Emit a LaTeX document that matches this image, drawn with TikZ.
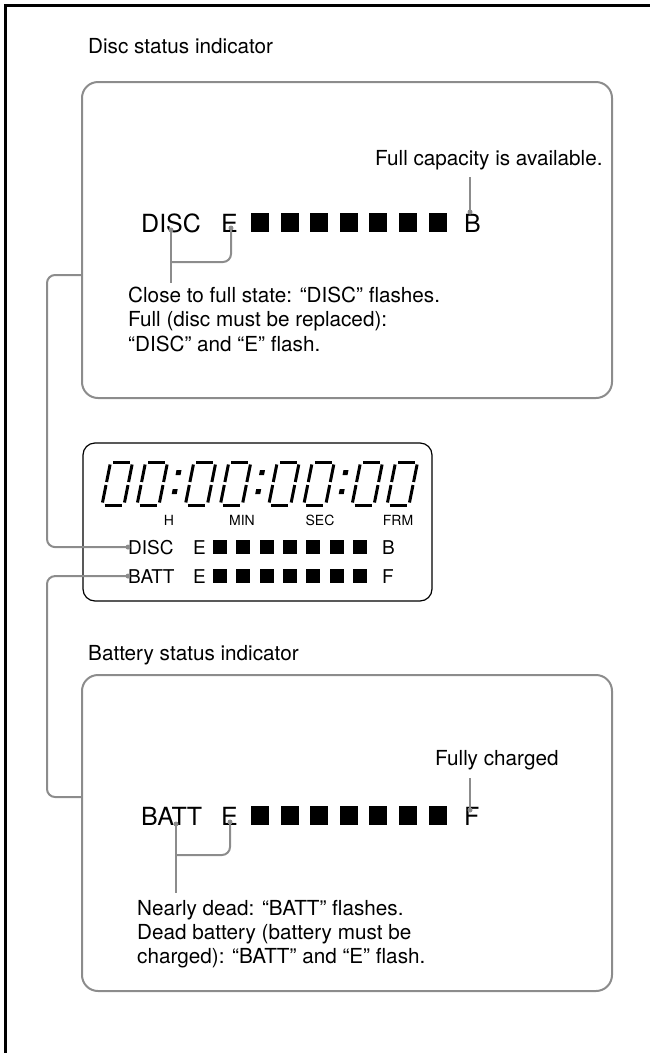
\documentclass[tikz,border=0pt]{standalone}
\usepackage{fontspec}
\setmainfont{TeX Gyre Heros}
\definecolor{linegray}{gray}{0.55}
\newcommand{\capfont}{\fontsize{20.7}{24.3}\selectfont}
\newcommand{\bigfont}{\fontsize{25}{29}\selectfont}
\newcommand{\lcdfont}{\fontsize{19}{22}\selectfont}
\newcommand{\unitfont}{\fontsize{14}{16}\selectfont}
\tikzset{
  panel/.style={draw=linegray, line width=2pt, rounded corners=16pt},
  callout/.style={draw=linegray, line width=2pt, rounded corners=8pt},
  seg/.style={line width=3pt},
  txt/.style={inner sep=0pt, font=\capfont},
}

\begin{document}
\begin{tikzpicture}[x=1pt, y=-1pt]
    \useasboundingbox (0,0) rectangle (650,1053);
    \draw[line width=3pt] (5,1053) -- (5,5) -- (650,5);

    % disc panel
    \node[txt, anchor=base west] (disctitle) at (88,53) {Disc status indicator};
    \draw[panel] (82,82) rectangle (612,398);
    \node[txt, anchor=base west] (discfull) at (375,165) {Full capacity is available.};
    \node[inner sep=0pt, font=\bigfont, anchor=base west] (bigdisc) at (141,232) {DISC};
    \node[inner sep=0pt, font=\bigfont, anchor=base west] (bigdisce) at (221,232) {E};
    \foreach \i in {0,...,6}{\fill (251+29.6*\i,213) rectangle ++(18,19);}
    \node[inner sep=0pt, font=\bigfont, anchor=base west] (bigdiscb) at (464,232) {B};
    \node[txt, anchor=north west, align=left] (disclow) at (128,287)
      {Close to full state: “DISC” flashes.\\Full (disc must be replaced):\\“DISC” and “E” flash.};
    \coordinate (discBdot) at (470,212);
    \coordinate (discBtop) at (470,177);
    \coordinate (discSdot) at (171,230);
    \coordinate (discEdot) at (231,228);
    \coordinate (discknee) at (171,262);
    \coordinate (disclowtop) at (171,283);
    \draw[callout] (discBtop) -- (discBdot);
    \draw[callout] (discSdot) -- (disclowtop);
    \draw[callout] (discEdot) |- (discknee);
    \foreach \p in {discBdot,discSdot,discEdot}{\fill[linegray] (\p) circle (2.5pt);}

    % lcd
    \draw[line width=1.2pt, rounded corners=12pt] (83,443) rectangle (432,601);
    \foreach \d in {102,137,185.3,220.3,268.7,303.7,352,387}{
      \begin{scope}[shift={(\d,505)}, xslant=0.2]
        \draw[seg] (2.5,-43) -- (19.5,-43);
        \draw[seg] (2.5,0) -- (19.5,0);
        \draw[seg] (0,-40.5) -- (0,-23);
        \draw[seg] (0,-20) -- (0,-2.5);
        \draw[seg] (22,-40.5) -- (22,-23);
        \draw[seg] (22,-20) -- (22,-2.5);
      \end{scope}
    }
    \begin{scope}[shift={(0,505)}, xslant=0.2]
      \foreach \c in {172,255.5,339}{
        \fill (\c-2.5,-35) rectangle ++(5,5);
        \fill (\c-2.5,-16) rectangle ++(5,5);
      }
    \end{scope}
    \node[inner sep=0pt, font=\unitfont, anchor=base] (unith) at (169,525) {H};
    \node[inner sep=0pt, font=\unitfont, anchor=base] (unitmin) at (242,525) {MIN};
    \node[inner sep=0pt, font=\unitfont, anchor=base] (unitsec) at (320,525) {SEC};
    \node[inner sep=0pt, font=\unitfont, anchor=base] (unitfrm) at (398,525) {FRM};
    \node[inner sep=0pt, font=\lcdfont, anchor=base west] (lcddisc) at (128,554) {DISC};
    \node[inner sep=0pt, font=\lcdfont, anchor=base west] (lcddisce) at (193,554) {E};
    \foreach \i in {0,...,6}{\fill (213+23.3*\i,540) rectangle ++(14,14);}
    \node[inner sep=0pt, font=\lcdfont, anchor=base west] (lcddiscb) at (382,554) {B};
    \node[inner sep=0pt, font=\lcdfont, anchor=base west] (lcdbatt) at (128,583) {BATT};
    \node[inner sep=0pt, font=\lcdfont, anchor=base west] (lcdbatte) at (193,583) {E};
    \foreach \i in {0,...,6}{\fill (213+23.3*\i,569) rectangle ++(14,14);}
    \node[inner sep=0pt, font=\lcdfont, anchor=base west] (lcdbattf) at (382,583) {F};

    % battery panel
    \node[txt, anchor=base west] (battitle) at (88,660) {Battery status indicator};
    \draw[panel] (82,675) rectangle (612,991);
    \node[txt, anchor=base west] (battfull) at (435,765) {Fully charged};
    \node[inner sep=0pt, font=\bigfont, anchor=base west] (bigbatt) at (141,825) {BATT};
    \node[inner sep=0pt, font=\bigfont, anchor=base west] (bigbatte) at (221,825) {E};
    \foreach \i in {0,...,6}{\fill (251+29.6*\i,806) rectangle ++(18,19);}
    \node[inner sep=0pt, font=\bigfont, anchor=base west] (bigbattf) at (464,825) {F};
    \node[txt, anchor=north west, align=left] (battlow) at (137,900)
      {Nearly dead: “BATT” flashes.\\Dead battery (battery must be\\charged): “BATT” and “E” flash.};
    \coordinate (battFdot) at (470,810);
    \coordinate (battFtop) at (470,778);
    \coordinate (battAdot) at (176,824);
    \coordinate (battEdot) at (230,822);
    \coordinate (battknee) at (176,855);
    \coordinate (battlowtop) at (176,893);
    \draw[callout] (battFtop) -- (battFdot);
    \draw[callout] (battAdot) -- (battlowtop);
    \draw[callout] (battEdot) |- (battknee);
    \foreach \p in {battFdot,battAdot,battEdot}{\fill[linegray] (\p) circle (2.5pt);}

    % links to the lcd
    \coordinate (discjoin) at (82,275);
    \coordinate (battjoin) at (82,797);
    \draw[callout] (discjoin) -- ++(-35,0) |- (lcddisc.west);
    \draw[callout] (lcdbatt.west) -- ++(-81,0) |- (battjoin);
    \fill[linegray] (lcddisc.west) circle (2.5pt);
    \fill[linegray] (lcdbatt.west) circle (2.5pt);
\end{tikzpicture}
\end{document}
